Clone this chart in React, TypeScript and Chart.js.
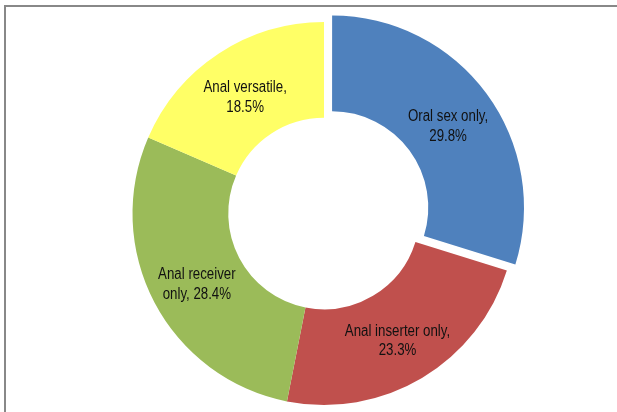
import React, { useEffect, useRef } from "react";
import { Chart, registerables } from "chart.js";

Chart.register(...registerables);

const categories = ["Oral sex only", "Anal inserter only", "Anal receiver only", "Anal versatile"];
const values = [29.8, 23.3, 28.4, 18.5];
const sliceLabels = [
  ["Oral sex only,", "29.8%"],
  ["Anal inserter only,", "23.3%"],
  ["Anal receiver", "only, 28.4%"],
  ["Anal versatile,", "18.5%"],
];
const colors = ["#4F81BD", "#C0504D", "#9BBB59", "#FFFF66"];
const explode = [40, 0, 0, 0];

const FONT = "16px 'Liberation Sans', Arial, sans-serif";
const SQUEEZE = 0.83;

const labelPlugin = {
  id: "sliceLabels",
  afterDatasetsDraw(chart: any) {
    const ctx = chart.ctx;
    const meta = chart.getDatasetMeta(0);
    meta.data.forEach((arc: any, i: number) => {
      const p = arc.getProps(
        ["x", "y", "startAngle", "endAngle", "circumference", "innerRadius", "outerRadius"],
        false
      );
      const half = (p.startAngle + p.endAngle) / 2;
      const off = (explode[i] || 0) / 4;
      const fix = 1 - Math.sin(Math.min(Math.PI, p.circumference || 0));
      const shift = off + off * fix;
      const r = (p.innerRadius + p.outerRadius) / 2 + shift;
      const x = p.x + Math.cos(half) * r;
      const y = p.y + Math.sin(half) * r + 3;
      const lines = sliceLabels[i];
      const lh = 19.5;
      ctx.save();
      ctx.translate(x, y);
      ctx.scale(SQUEEZE, 1);
      ctx.font = FONT;
      ctx.fillStyle = "#111";
      ctx.textAlign = "center";
      ctx.textBaseline = "alphabetic";
      lines.forEach((t, k) => {
        ctx.fillText(t, 0, (k - (lines.length - 1) / 2) * lh + 5.7);
      });
      ctx.restore();
    });
  },
};

export default function App() {
  const ref = useRef<HTMLCanvasElement | null>(null);
  useEffect(() => {
    if (!ref.current) return;
    const chart = new Chart(ref.current, {
      type: "doughnut",
      data: {
        labels: categories,
        datasets: [
          {
            data: values,
            backgroundColor: colors,
            borderWidth: 0,
            offset: explode,
          },
        ],
      },
      options: {
        responsive: false,
        animation: false,
        radius: 191.5,
        cutout: "50%",
        layout: { padding: { left: 31, right: 0, top: 15, bottom: 0 } },
        plugins: {
          legend: { display: false },
          tooltip: { enabled: false },
        },
      } as any,
      plugins: [labelPlugin],
    });
    return () => chart.destroy();
  }, []);
  return (
    <div
      style={{
        position: "absolute",
        left: 0,
        top: 0,
        width: 617,
        height: 412,
        overflow: "hidden",
        background: "#fff",
      }}
    >
      <div
        style={{
          position: "absolute",
          left: 4,
          top: 5,
          width: 700,
          height: 500,
          borderTop: "2px solid #888",
          borderLeft: "2px solid #888",
        }}
      />
      <canvas
        ref={ref}
        width={617}
        height={412}
        style={{ position: "absolute", left: 0, top: 0, display: "block" }}
      />
    </div>
  );
}
